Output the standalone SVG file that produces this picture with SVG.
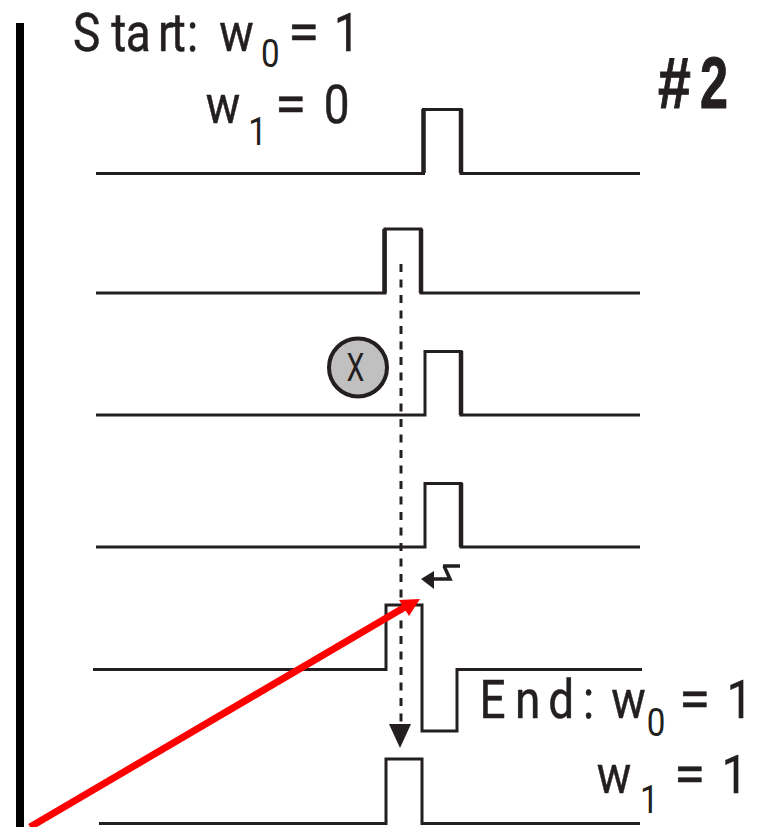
<svg xmlns="http://www.w3.org/2000/svg" width="759" height="827" viewBox="0 0 759 827">
<style>
.w{fill:none;stroke:#231f20;stroke-width:3;stroke-linejoin:miter}
.k{fill:none;stroke:#231f20;stroke-width:4.5}
.t{font-family:Roboto,"Liberation Sans",sans-serif;font-size:54px;fill:#231f20;stroke:#231f20;stroke-width:.5}
.e{font-family:Roboto,"Liberation Sans",sans-serif;font-size:54px;fill:#231f20;stroke:#231f20;stroke-width:.5}
.s{font-family:Roboto,"Liberation Sans",sans-serif;font-size:39px;fill:#231f20}
.b{font-family:"Liberation Sans",Arial,sans-serif;font-size:72px;font-weight:700;fill:#231f20;stroke:#231f20;stroke-width:1}
</style>
<rect width="759" height="827" fill="#fff"/>
<g id="axis"><rect x="16" y="23" width="8" height="804" fill="#000"/></g>
<g id="waveforms">
<path id="wave1" class="w" d="M96 173.500H423.500V109.500H461V173.500H640"/>
<path class="k" d="M423.500 173V109M461 173V109"/>
<path id="wave2" class="w" d="M96 293H385V229H421V293H640"/>
<path class="k" d="M384.500 293V229M421 293V229"/>
<path id="wave3" class="w" d="M96 415H425V351.500H461V415H640"/>
<path class="k" d="M461 415V351"/>
<path id="wave4" class="w" d="M96 547H425V483.500H461V547H640"/>
<path class="k" d="M461 547V483"/>
<path id="wave5" class="w" d="M93 669.500H386V605H422V731H457V669.500H642"/>
<path id="wave6" class="w" d="M99 823.500H386V759H422V823.500H640"/>
</g>
<g id="x-node">
<circle cx="358" cy="367.500" r="29" fill="#c0c0c0" stroke="#231f20" stroke-width="4"/>
<text transform="translate(355.500,381) scale(.75,1)" text-anchor="middle" font-family="Roboto,Liberation Sans,sans-serif" font-size="38" fill="#231f20">X</text>
</g>
<g id="connectors">
<path d="M401 264V726" fill="none" stroke="#231f20" stroke-width="3" stroke-dasharray="8 7.500"/>
<path d="M389 724H411L400 748Z" fill="#231f20"/>
<path d="M443 566H460M444 566L450 579H433" fill="none" stroke="#231f20" stroke-width="3.500"/>
<path d="M421 579L434 571V589Z" fill="#231f20"/>
<path d="M30 827L405 607" fill="none" stroke="#ff0000" stroke-width="7"/>
<path d="M420 599L409 616L399 600Z" fill="#ff0000"/>
</g>
<g id="labels">
<g transform="scale(.85,1)">
<text class="t" x="86 131 148 186 201 220" y="51">Start:</text>
<text class="t" x="258" y="51">w</text>
<text class="t" x="393" y="51">1</text>
<text class="s" x="307" y="67">0</text>
<text class="t" x="242" y="123">w</text>
<text class="s" x="292" y="145">1</text>
<text class="t" x="381" y="123">0</text>
<text class="t" x="564 606 645 686" y="718">End:</text>
<text class="t" x="719" y="718">w</text>
<text class="s" x="761" y="736">0</text>
<text class="t" x="855" y="718">1</text>
<text class="t" x="702" y="793">w</text>
<text class="s" x="753" y="813">1</text>
<text class="t" x="849" y="793">1</text>
</g>
<text class="e" transform="translate(288,51) scale(1.05,1)">=</text>
<text class="e" transform="translate(275,123) scale(1.05,1)">=</text>
<text class="e" transform="translate(679,718) scale(1.05,1)">=</text>
<text class="e" transform="translate(674,793) scale(1.05,1)">=</text>
<text class="b" transform="translate(658,108) scale(.82,1)">#</text>
<text class="b" transform="translate(700,108) scale(.7,1)">2</text>
</g>
</svg>
